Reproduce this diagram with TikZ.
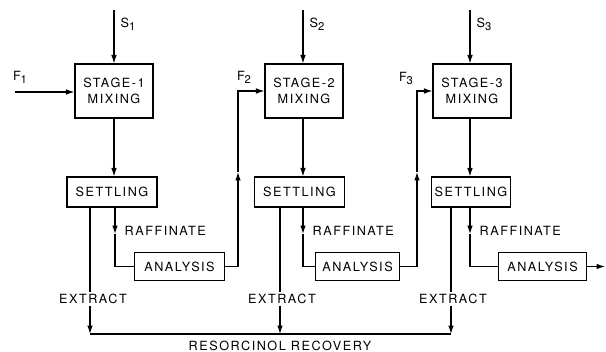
\documentclass[tikz,border=0pt]{standalone}
\usepackage{fontspec}
\setmainfont{TeX Gyre Heros}[LetterSpace=12]
\usepackage{tikz}
\usetikzlibrary{arrows.meta, positioning, calc}
\newcommand{\lowidx}[1]{\raisebox{-0.45ex}{\footnotesize #1}}
\tikzset{
    unit/.style={draw, line width=0.8pt, align=center, inner sep=2pt, font=\small},
    mixbox/.style={unit, minimum width=1.95cm, minimum height=1.35cm},
    settlebox/.style={unit, minimum width=2.25cm, minimum height=0.75cm},
    anabox/.style={unit, minimum width=2.2cm, minimum height=0.68cm},
    lbl/.style={font=\small, inner sep=1pt},
    arr/.style={line width=0.8pt, -{Latex[length=6pt,width=4pt]}},
    pipe/.style={line width=0.8pt}
}

\begin{document}
\begin{tikzpicture}[x=0.025cm, y=-0.025cm]
        \useasboundingbox (0,0) rectangle (606,352);

        % Stage 1
        \node[mixbox] (mix1) at (114,91) {STAGE-1\\MIXING};
        \node[settlebox] (settle1) at (112,192) {SETTLING};
        \node[anabox, minimum width=2.27cm] (ana1) at (179.5,266.5) {ANALYSIS};
        \coordinate (s1) at (114,10);
        \coordinate (f1) at (15,92);
        \coordinate (r1) at (115,234);
        \coordinate (e1) at (90,334);
        \coordinate (up1) at (238,172);
        \node[lbl, anchor=west] at (119,24) {S\lowidx{1}};
        \node[lbl] at (20,77) {F\lowidx{1}};
        \draw[arr] (s1) -- (mix1.north);
        \draw[arr] (f1) -- (mix1.west |- f1);
        \draw[arr] (mix1.south) -- (mix1.south |- settle1.north);
        \draw[arr] (settle1.south -| r1) -- (r1);
        \draw[pipe] (r1) |- (ana1.west);
        \node[lbl, anchor=west] at (123,231) {RAFFINATE};
        \node[lbl] (ext1) at (93,299) {EXTRACT};
        \draw[pipe] (settle1.south -| e1) -- (ext1.north -| e1);
        \draw[arr] (ext1.south -| e1) -- (e1);

        % Stage 2
        \node[mixbox] (mix2) at (304,91) {STAGE-2\\MIXING};
        \node[settlebox, minimum width=2.27cm] (settle2) at (299.5,192) {SETTLING};
        \node[anabox, minimum width=2.12cm] (ana2) at (357.5,266.5) {ANALYSIS};
        \coordinate (s2) at (303,10);
        \coordinate (r2) at (303,234);
        \coordinate (e2) at (280,334);
        \coordinate (up2) at (417,172);
        \node[lbl, anchor=west] at (308,24) {S\lowidx{2}};
        \node[lbl] at (244,77) {F\lowidx{2}};
        \draw[arr] (ana1.east) -| (up1);
        \draw[arr] (up1) |- (mix2.west);
        \draw[arr] (s2) -- (mix2.north -| s2);
        \draw[arr] (mix2.south -| s2) -- (settle2.north -| s2);
        \draw[arr] (settle2.south -| r2) -- (r2);
        \draw[pipe] (r2) |- (ana2.west);
        \node[lbl, anchor=west] at (311,231) {RAFFINATE};
        \node[lbl] (ext2) at (282,299) {EXTRACT};
        \draw[pipe] (settle2.south -| e2) -- (ext2.north -| e2);
        \draw[arr] (ext2.south -| e2) -- (e2);

        % Stage 3
        \node[mixbox] (mix3) at (472,91) {STAGE-3\\MIXING};
        \node[settlebox, minimum width=1.95cm] (settle3) at (471,192) {SETTLING};
        \node[anabox] (ana3) at (542.5,266.5) {ANALYSIS};
        \coordinate (s3) at (470,10);
        \coordinate (r3) at (470,234);
        \coordinate (e3) at (451,334);
        \coordinate (out) at (605,266.5);
        \node[lbl, anchor=west] at (475,24) {S\lowidx{3}};
        \node[lbl] at (406,78) {F\lowidx{3}};
        \draw[arr] (ana2.east) -| (up2);
        \draw[arr] (up2) |- (mix3.west);
        \draw[arr] (s3) -- (mix3.north -| s3);
        \draw[arr] (mix3.south -| s3) -- (settle3.north -| s3);
        \draw[arr] (settle3.south -| r3) -- (r3);
        \draw[pipe] (r3) |- (ana3.west);
        \node[lbl, anchor=west] at (478,231) {RAFFINATE};
        \draw[arr] (ana3.east) -- (out);
        \node[lbl] (ext3) at (453,299) {EXTRACT};
        \draw[pipe] (settle3.south -| e3) -- (ext3.north -| e3);
        \draw[arr] (ext3.south -| e3) -- (e3);

        % Recovery
        \draw[pipe] (e1) -- (e3);
        \node[lbl] (recov) at (280,346) {RESORCINOL RECOVERY};
    \end{tikzpicture}
\end{document}
